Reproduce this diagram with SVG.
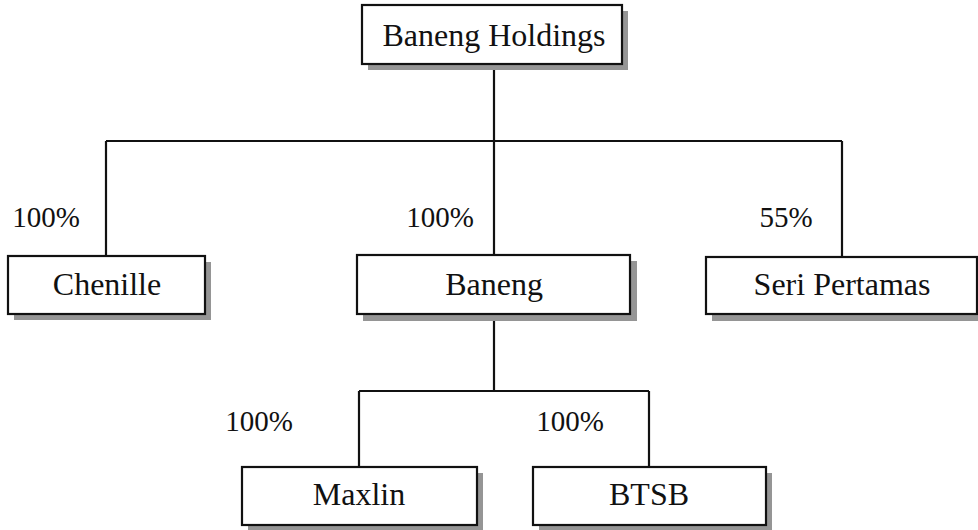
<svg xmlns="http://www.w3.org/2000/svg" width="978" height="530" viewBox="0 0 978 530">
<style>
.box{fill:#fff;stroke:#111;stroke-width:2.2}
.sh{fill:#959595}
.t{font-family:"Liberation Serif","Times New Roman",serif;font-size:32px;fill:#111;text-anchor:middle}
.p{font-family:"Liberation Serif","Times New Roman",serif;font-size:29px;fill:#111;text-anchor:middle}
.c{fill:none;stroke:#111;stroke-width:2.2}
</style>
<rect width="978" height="530" fill="#fff"/>
<g id="connectors">
<path class="c" d="M494 64V141M106 141H842M106 141V256M494 141V255M842 141V257"/>
<path class="c" d="M494 314V391M359 391H649M359 391V467M649 391V467"/>
</g>
<g id="baneng-holdings">
<rect class="sh" x="368" y="11" width="260" height="59"/>
<rect class="box" x="362" y="5" width="260" height="59"/>
<text class="t" x="494" y="46">Baneng Holdings</text>
</g>
<g id="chenille">
<rect class="sh" x="14" y="262" width="197" height="58"/>
<rect class="box" x="8" y="256" width="197" height="58"/>
<text class="p" x="46" y="227">100%</text>
<text class="t" x="107" y="295">Chenille</text>
</g>
<g id="baneng">
<rect class="sh" x="363" y="261" width="274" height="60"/>
<rect class="box" x="357" y="255" width="273" height="59"/>
<text class="p" x="440" y="227">100%</text>
<text class="t" x="494" y="295">Baneng</text>
</g>
<g id="seri-pertamas">
<rect class="sh" x="712" y="263" width="266" height="58"/>
<rect class="box" x="706" y="257" width="271" height="57"/>
<text class="p" x="786" y="227">55%</text>
<text class="t" x="842" y="295">Seri Pertamas</text>
</g>
<g id="maxlin">
<rect class="sh" x="248" y="473" width="235" height="57"/>
<rect class="box" x="242" y="467" width="235" height="58"/>
<text class="p" x="259" y="431">100%</text>
<text class="t" x="359" y="505">Maxlin</text>
</g>
<g id="btsb">
<rect class="sh" x="539" y="473" width="233" height="57"/>
<rect class="box" x="533" y="467" width="233" height="58"/>
<text class="p" x="570" y="431">100%</text>
<text class="t" x="649" y="505">BTSB</text>
</g>
</svg>
